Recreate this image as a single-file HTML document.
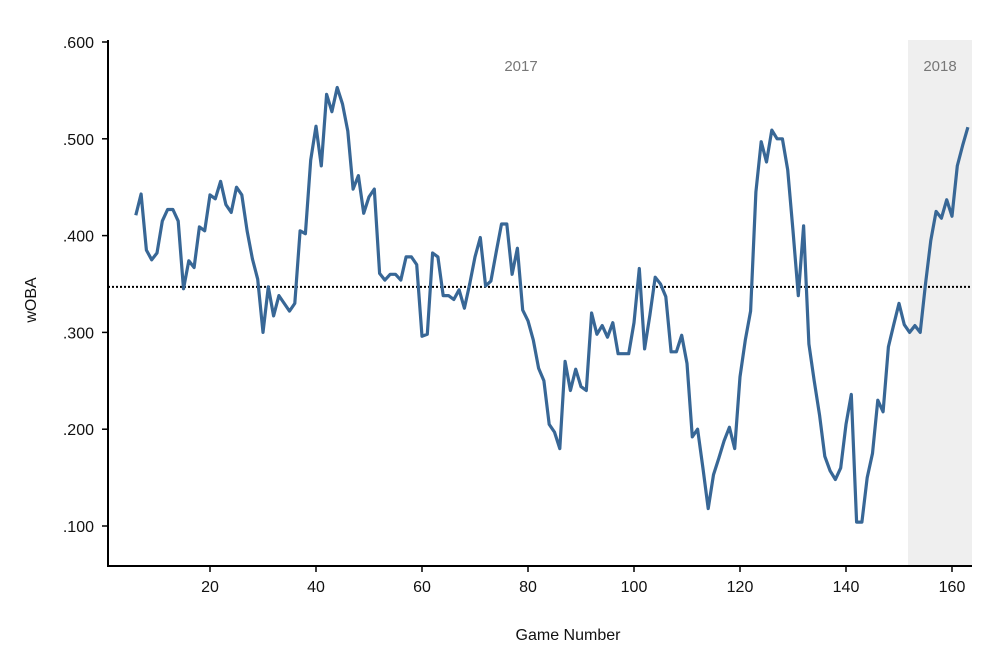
<!DOCTYPE html>
<html><head><meta charset="utf-8"><style>
html,body{margin:0;padding:0;background:#fff;}
svg text{font-family:"Liberation Sans",sans-serif;}
</style></head><body>
<svg width="1000" height="650" viewBox="0 0 1000 650">
<g id="root"></g>
</svg>
<script>
const games=[];for(let g=6;g<=163;g++)games.push(g);
const woba=[.421,.443,.385,.375,.382,.415,.427,.427,.415,.345,.374,.367,.409,.405,.442,.438,.456,.432,.424,.450,.442,.405,.376,.355,.300,.347,.317,.338,.330,.322,.330,.405,.402,.478,.513,.472,.546,.528,.553,.536,.508,.448,.462,.423,.440,.448,.361,.354,.360,.360,.354,.378,.378,.370,.296,.298,.382,.378,.338,.338,.334,.344,.325,.350,.378,.398,.348,.353,.383,.412,.412,.360,.387,.323,.312,.292,.263,.250,.205,.197,.180,.270,.240,.262,.244,.240,.320,.298,.307,.295,.310,.278,.278,.278,.310,.366,.283,.318,.357,.350,.337,.280,.280,.297,.268,.192,.200,.160,.118,.153,.170,.188,.202,.180,.254,.292,.322,.445,.497,.476,.509,.500,.500,.468,.405,.338,.410,.288,.250,.215,.172,.157,.148,.160,.205,.236,.104,.104,.150,.175,.230,.218,.285,.308,.330,.308,.300,.307,.300,.350,.395,.425,.418,.437,.420,.472,.493,.512];
const xTicks=[20,40,60,80,100,120,140,160];
const yTicks=[.1,.2,.3,.4,.5,.6];
const average=[.347];
const seasonStart2018=[151.7];
const X=g=>104+5.3*g, Y=v=>42+(0.6-v)*968;
const NS='http://www.w3.org/2000/svg', root=document.getElementById('root');
function mk(t,a,txt){const e=document.createElementNS(NS,t);for(const k in a)e.setAttribute(k,a[k]);if(txt!==undefined)e.textContent=txt;root.appendChild(e);return e;}
let e;
e=mk('rect',{x:X(seasonStart2018[0]),y:40,width:972-X(seasonStart2018[0]),height:526,fill:'#efefef'});


e=mk('text',{x:521,y:71,'font-size':15,fill:'#777','text-anchor':'middle'},'2017');


e=mk('text',{x:940,y:71,'font-size':15,fill:'#777','text-anchor':'middle'},'2018');


e=mk('line',{x1:108,x2:972,y1:Y(average[0]),y2:Y(average[0]),stroke:'#000','stroke-width':2,'stroke-dasharray':'2,2'});


e=mk('path',{d:games.map((g,i)=>(i?'L':'M')+X(g).toFixed(1)+','+Y(woba[i]).toFixed(1)).join(''),fill:'none',stroke:'#386796','stroke-width':3.2,'stroke-linejoin':'round'});


e=mk('line',{x1:108,x2:108,y1:40,y2:567,stroke:'#000','stroke-width':2});


e=mk('line',{x1:107,x2:972,y1:566,y2:566,stroke:'#000','stroke-width':2});


yTicks.forEach(v=>{
 e=mk('line',{x1:102,x2:108,y1:Y(v),y2:Y(v),stroke:'#000','stroke-width':1.5});
 
 
 e=mk('text',{x:94,y:Y(v)+6,'font-size':16,fill:'#111','text-anchor':'end'},v.toFixed(3).replace(/^0/,''));
 
 
});
xTicks.forEach(g=>{
 e=mk('line',{x1:X(g),x2:X(g),y1:566,y2:572,stroke:'#000','stroke-width':1.5});
 
 
 e=mk('text',{x:X(g),y:592,'font-size':16,fill:'#111','text-anchor':'middle'},String(g));
 
 
});
e=mk('text',{x:568,y:640,'font-size':16,fill:'#111','text-anchor':'middle'},'Game Number');


e=mk('text',{x:36,y:300,'font-size':16,fill:'#111','text-anchor':'middle',transform:'rotate(-90 36 300)'},'wOBA');


</script>
</body></html>
